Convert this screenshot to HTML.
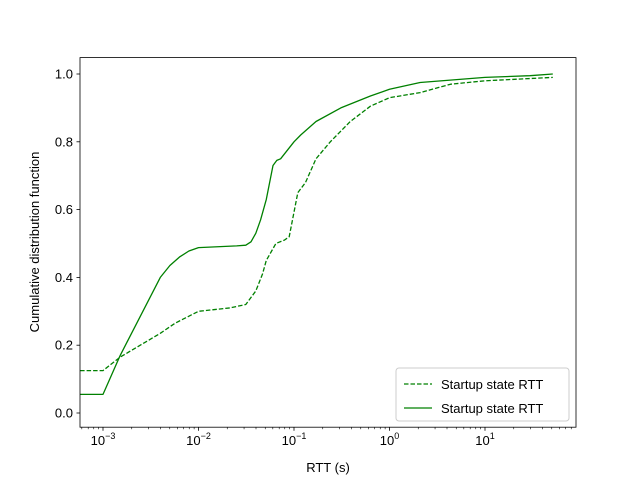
<!DOCTYPE html>
<html><head><meta charset="utf-8"><style>
body{margin:0;background:#fff}
svg text{font-family:"Liberation Sans","DejaVu Sans",sans-serif;fill:#000}
</style></head><body>
<svg id="c" width="640" height="480" xmlns="http://www.w3.org/2000/svg"></svg>
<script>
const xTicksExp=[-3,-2,-1,0,1];
const yTicks=[0,0.2,0.4,0.6,0.8,1.0];
const solidLogX=[-3.24,-3,-2.82,-2.4,-2.3,-2.2,-2.1,-2,-1.6,-1.505,-1.45,-1.4,-1.35,-1.29,-1.22,-1.18,-1.14,-1,-0.93,-0.77,-0.51,-0.2,0,0.32,1,1.47,1.71];
const solidY=[0.055,0.055,0.17,0.40,0.435,0.46,0.478,0.488,0.493,0.495,0.505,0.53,0.57,0.63,0.73,0.745,0.75,0.80,0.82,0.86,0.90,0.935,0.955,0.975,0.99,0.995,1.0];
const dashLogX=[-3.24,-3,-2.82,-2.4,-2.245,-2,-1.67,-1.505,-1.4,-1.33,-1.29,-1.19,-1.1,-1.05,-0.96,-0.88,-0.77,-0.62,-0.41,-0.2,0,0.32,0.64,1,1.71];
const dashY=[0.125,0.125,0.165,0.235,0.265,0.30,0.31,0.32,0.36,0.41,0.45,0.50,0.51,0.52,0.65,0.68,0.75,0.80,0.86,0.905,0.93,0.945,0.97,0.98,0.99];
const NS='http://www.w3.org/2000/svg';
const svg=document.getElementById('c');
const L=80,R=576,T=57.6,B=427.2;
const X=e=>103+(e+3)*95.5;
const Y=v=>413-v*339;
function mk(t,a,p){const el=document.createElementNS(NS,t);for(const k in a)el.setAttribute(k,a[k]);(p||svg).appendChild(el);return el;}
function path(xs,ys){return xs.map((x,i)=>(i?'L':'M')+X(x).toFixed(1)+' '+Y(ys[i]).toFixed(1)).join(' ');}
const clip=mk('clipPath',{id:'cp'});mk('rect',{x:L,y:T,width:R-L,height:B-T},clip);
const d=mk('path',{d:path(dashLogX,dashY),fill:'none',stroke:'#008000','stroke-width':1.3,'stroke-dasharray':'4.5,2','stroke-linejoin':'round','clip-path':'url(#cp)'});


const s=mk('path',{d:path(solidLogX,solidY),fill:'none',stroke:'#008000','stroke-width':1.3,'stroke-linejoin':'round','clip-path':'url(#cp)'});


const f=mk('rect',{x:L,y:T,width:R-L,height:B-T,fill:'none',stroke:'#000','stroke-width':0.8});


for(const e of xTicksExp){
  mk('line',{x1:X(e),x2:X(e),y1:B,y2:B+3.5,stroke:'#000','stroke-width':0.8});
  const t=mk('text',{x:X(e),y:B+18,'font-size':13,'text-anchor':'middle'});
  
  
  t.innerHTML='10<tspan dy="-6" font-size="9">'+(e<0?'\u2212'+(-e):e)+'</tspan>';
}
for(let e=-4;e<=1;e++)for(let m=2;m<=9;m++){const x=X(e+Math.log10(m));if(x>L&&x<R)mk('line',{x1:x,x2:x,y1:B,y2:B+2,stroke:'#000','stroke-width':0.6});}
for(const v of yTicks){
  mk('line',{x1:L-3.5,x2:L,y1:Y(v),y2:Y(v),stroke:'#000','stroke-width':0.8});
  const t=mk('text',{x:L-7,y:Y(v)+4.5,'font-size':13,'text-anchor':'end'});
  
  
  t.textContent=v.toFixed(1);
}
const xt=mk('text',{x:(L+R)/2,y:472,'font-size':13,'text-anchor':'middle'});xt.textContent='RTT (s)';


const yt=mk('text',{x:0,y:0,'font-size':13,'text-anchor':'middle',transform:'translate(39,242) rotate(-90)'});yt.textContent='Cumulative distribution function';


const g=mk('g',{});


mk('rect',{x:396,y:368,width:173,height:53,rx:3,fill:'#fff',stroke:'#ccc','stroke-width':1},g);
mk('line',{x1:404,x2:432,y1:384,y2:384,stroke:'#008000','stroke-width':1.3,'stroke-dasharray':'4.5,2'},g);
mk('line',{x1:404,x2:432,y1:408,y2:408,stroke:'#008000','stroke-width':1.3},g);
const l1=mk('text',{x:441,y:389,'font-size':13},g);l1.textContent='Startup state RTT';


const l2=mk('text',{x:441,y:413,'font-size':13},g);l2.textContent='Startup state RTT';


</script>
</body></html>
